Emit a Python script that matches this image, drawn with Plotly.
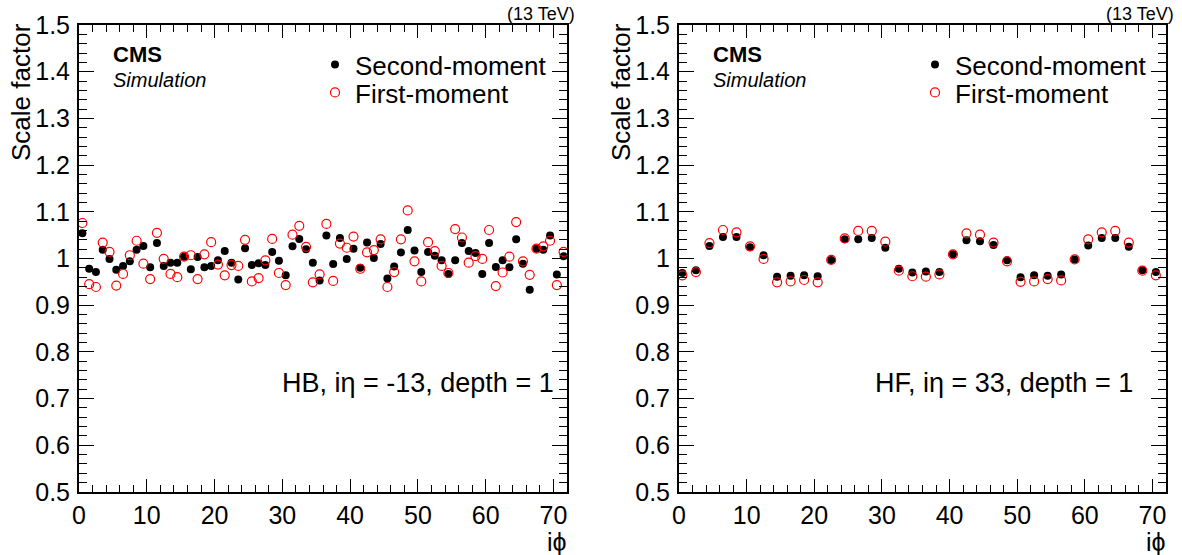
import plotly.graph_objects as go

# ---------------- data ----------------
hb_iphi = list(range(1, 73))
hb_second = [1.054, 0.978, 0.971, 1.019, 0.999, 0.976, 0.984, 0.994, 1.019, 1.027,
             0.981, 1.033, 0.984, 0.991, 0.991, 1.004, 0.977, 1.003, 0.981, 0.984,
             0.996, 1.016, 0.991, 0.955, 1.022, 0.986, 0.990, 0.986, 1.014, 0.995,
             0.964, 1.026, 1.042, 1.020, 0.991, 0.953, 1.049, 0.988, 1.044, 0.999,
             1.021, 0.980, 1.034, 1.001, 1.031, 0.957, 0.983, 1.013, 1.061, 1.017,
             0.971, 1.014, 1.006, 0.996, 0.967, 0.996, 1.033, 1.016, 1.012, 0.967,
             1.033, 0.982, 0.996, 0.981, 1.041, 0.989, 0.933, 1.021, 1.019, 1.049,
             0.966, 1.005]
hb_first = [1.076, 0.945, 0.939, 1.034, 1.014, 0.942, 0.967, 1.007, 1.038, 0.989,
            0.956, 1.055, 0.999, 0.967, 0.960, 1.004, 1.007, 0.956, 1.009, 1.035,
            0.987, 0.964, 0.986, 0.984, 1.040, 0.951, 0.958, 0.996, 1.042, 0.969,
            0.943, 1.051, 1.070, 1.025, 0.949, 0.966, 1.074, 0.952, 1.032, 1.023,
            1.047, 0.978, 1.013, 1.018, 1.041, 0.939, 0.971, 1.041, 1.103, 0.994,
            0.951, 1.035, 1.016, 0.984, 0.969, 1.063, 1.045, 0.991, 1.005, 0.999,
            1.061, 0.941, 0.970, 1.004, 1.078, 0.994, 0.965, 1.021, 1.026, 1.038,
            0.943, 1.014]

hf_iphi = list(range(1, 72, 2))
hf_second = [0.969, 0.975, 1.027, 1.046, 1.046, 1.024, 1.007, 0.961, 0.963, 0.964,
             0.962, 0.997, 1.041, 1.041, 1.044, 1.023, 0.978, 0.970, 0.972, 0.971,
             1.009, 1.039, 1.037, 1.029, 0.996, 0.960, 0.964, 0.963, 0.966, 0.998,
             1.028, 1.044, 1.044, 1.025, 0.975, 0.971]
hf_first = [0.964, 0.971, 1.033, 1.061, 1.056, 1.026, 0.999, 0.949, 0.951, 0.954,
            0.949, 0.997, 1.043, 1.059, 1.059, 1.036, 0.974, 0.962, 0.961, 0.966,
            1.009, 1.054, 1.051, 1.034, 0.994, 0.950, 0.951, 0.956, 0.953, 0.998,
            1.041, 1.056, 1.059, 1.034, 0.974, 0.964]

x_tick_vals = [0, 10, 20, 30, 40, 50, 60, 70]
x_tick_labels = ["0", "10", "20", "30", "40", "50", "60", "70"]
y_tick_vals = [0.5, 0.6, 0.7, 0.8, 0.9, 1.0, 1.1, 1.2, 1.3, 1.4, 1.5]
y_tick_labels = ["0.5", "0.6", "0.7", "0.8", "0.9", "1", "1.1", "1.2", "1.3", "1.4", "1.5"]

series_names = ["Second-moment", "First-moment"]
panel_labels = ["HB, iη = -13, depth = 1", "HF, iη = 33, depth = 1"]

# ---------------- figure ----------------
W, H = 1182, 555
FONT = "Liberation Sans, Arial, Helvetica, sans-serif"


def px_x(p):
    return p / W


def px_y(p):
    return (H - p) / H


fig = go.Figure()

# bin centres
hb_x = [i - 0.5 for i in hb_iphi]
hf_x = [i - 0.5 for i in hf_iphi]

black_marker = dict(symbol="circle", size=8, color="black")
red_marker = dict(symbol="circle-open", size=9, color="red", line=dict(width=1.2, color="red"))

fig.add_trace(go.Scatter(x=hb_x, y=hb_second, mode="markers", name=series_names[0],
                         marker=black_marker, xaxis="x", yaxis="y", legend="legend"))
fig.add_trace(go.Scatter(x=hb_x, y=hb_first, mode="markers", name=series_names[1],
                         marker=red_marker, xaxis="x", yaxis="y", legend="legend2"))
fig.add_trace(go.Scatter(x=hf_x, y=hf_second, mode="markers", name=series_names[0],
                         marker=black_marker, xaxis="x2", yaxis="y2", legend="legend3"))
fig.add_trace(go.Scatter(x=hf_x, y=hf_first, mode="markers", name=series_names[1],
                         marker=red_marker, xaxis="x2", yaxis="y2", legend="legend4"))

xcommon = dict(range=[0, 72], tickvals=x_tick_vals, ticktext=x_tick_labels,
               ticks="inside", ticklen=13, tickwidth=1, tickcolor="black",
               minor=dict(ticks="inside", ticklen=7, dtick=2, tick0=0, tickcolor="black", tickwidth=1),
               showline=True, linecolor="black", linewidth=2, mirror="ticks",
               showgrid=False, zeroline=False, automargin=False,
               tickfont=dict(family=FONT, size=25, color="black"), fixedrange=True)
ycommon = dict(range=[0.5, 1.5], tickvals=y_tick_vals, ticktext=y_tick_labels,
               ticks="inside", ticklen=15, tickwidth=1, tickcolor="black",
               minor=dict(ticks="inside", ticklen=8, dtick=0.02, tick0=0.5, tickcolor="black", tickwidth=1),
               showline=True, linecolor="black", linewidth=2, mirror="ticks",
               showgrid=False, zeroline=False, ticklabelstandoff=2, automargin=False,
               tickfont=dict(family=FONT, size=25, color="black"), fixedrange=True)


def leg(xp, yp):
    return dict(x=px_x(xp), y=px_y(yp), xanchor="left", yanchor="top",
                bgcolor="rgba(0,0,0,0)", borderwidth=0,
                font=dict(family=FONT, size=26, color="black"))


ydom = [px_y(492), px_y(25)]
fig.update_layout(
    width=W, height=H,
    margin=dict(l=0, r=0, t=0, b=0, pad=0, autoexpand=False),
    paper_bgcolor="white", plot_bgcolor="white",
    font=dict(family=FONT, color="black"),
    xaxis=dict(domain=[px_x(79), px_x(567)], anchor="y", **xcommon),
    yaxis=dict(domain=ydom, anchor="x", **ycommon),
    xaxis2=dict(domain=[px_x(679), px_x(1166)], anchor="y2", **xcommon),
    yaxis2=dict(domain=ydom, anchor="x2", **ycommon),
    legend=leg(315, 41),
    legend2=leg(315, 69),
    legend3=leg(915, 41),
    legend4=leg(915, 69),
    showlegend=True,
    hovermode=False,
)

ann = []
for off, (ax_l, ax_r) in enumerate([(79, 567), (679, 1166)]):
    # y title
    ann.append(dict(text="Scale factor", textangle=-90, xref="paper", yref="paper",
                    x=px_x(ax_l - 58), y=px_y(22), xanchor="center", yanchor="top",
                    showarrow=False, borderpad=0,
                    font=dict(family=FONT, size=26, color="black")))
    # x title
    ann.append(dict(text="iϕ", xref="paper", yref="paper",
                    x=px_x(ax_r + 1), y=px_y(527), xanchor="right", yanchor="top",
                    showarrow=False, borderpad=0,
                    font=dict(family=FONT, size=25, color="black")))
    # CMS
    ann.append(dict(text="<b>CMS</b>", xref="paper", yref="paper",
                    x=px_x(ax_l + 32), y=px_y(54), xanchor="left", yanchor="middle",
                    showarrow=False, font=dict(family=FONT, size=22, color="black")))
    ann.append(dict(text="<i>Simulation</i>", xref="paper", yref="paper",
                    x=px_x(ax_l + 32), y=px_y(80), xanchor="left", yanchor="middle",
                    showarrow=False, font=dict(family=FONT, size=20, color="black")))
    # energy label
    ann.append(dict(text="(13 TeV)", xref="paper", yref="paper",
                    x=px_x(ax_r + 9), y=px_y(14), xanchor="right", yanchor="middle",
                    showarrow=False, borderpad=0,
                    font=dict(family=FONT, size=18, color="black")))
    # panel label
    ann.append(dict(text=panel_labels[off], xref="paper", yref="paper",
                    x=px_x(556 if off == 0 else 1135), y=px_y(383),
                    xanchor="right", yanchor="middle",
                    showarrow=False, font=dict(family=FONT, size=27, color="black")))

fig.update_layout(annotations=ann)
fig.write_html("out.html",
               config={"displayModeBar": False, "staticPlot": False},
               post_script="document.body.style.margin='0px';"
                           "document.documentElement.style.overflow='hidden';")
